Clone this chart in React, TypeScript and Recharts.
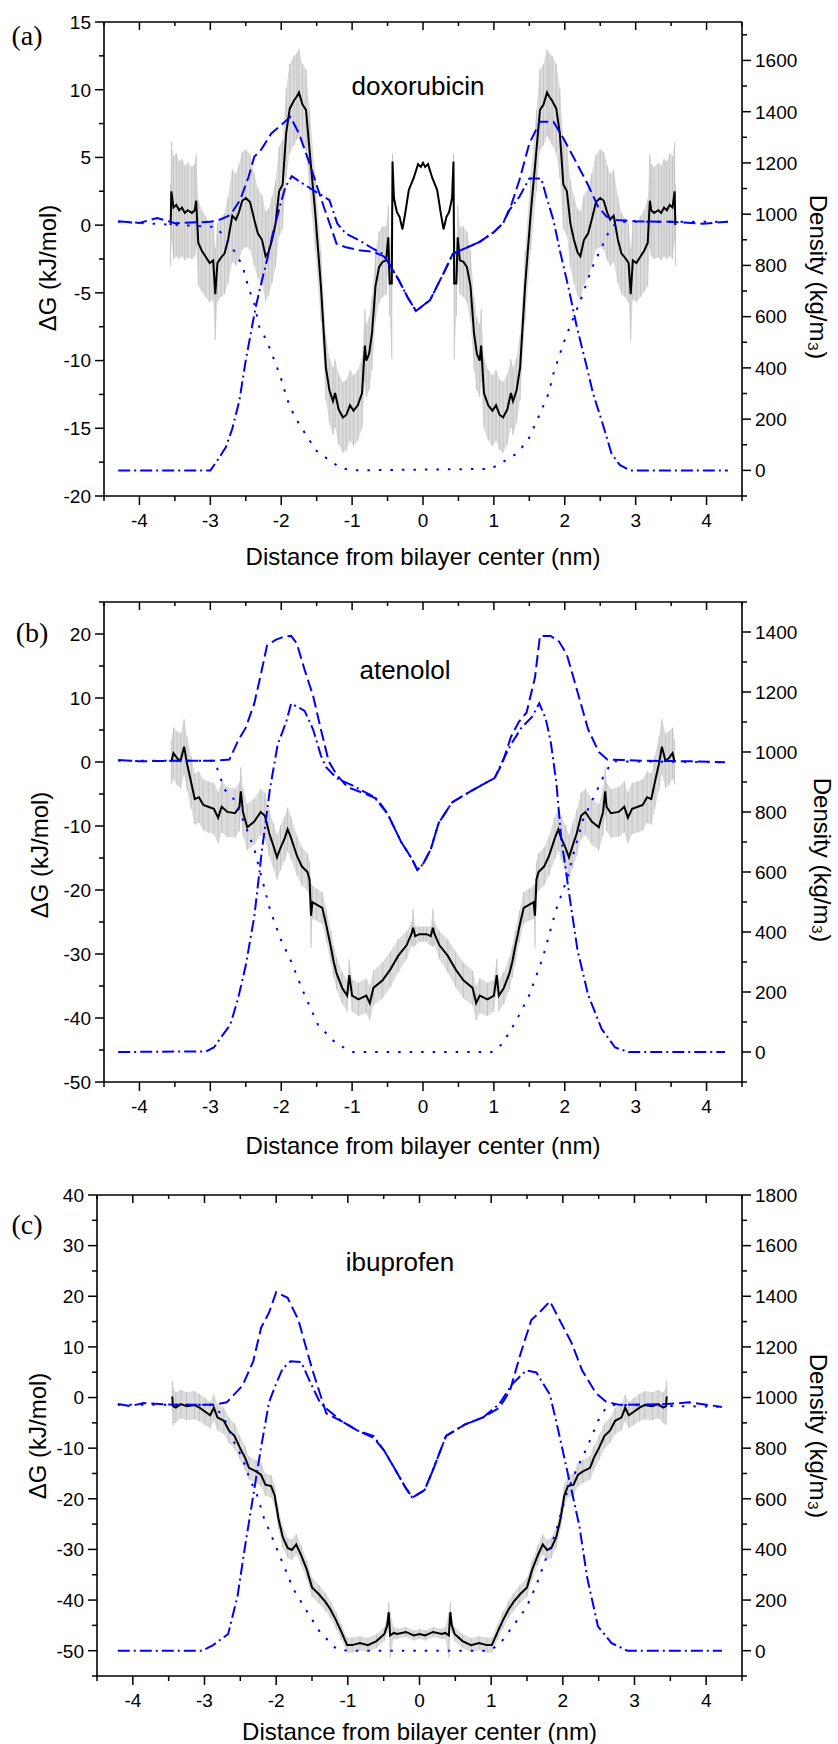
import React from "react";
import { ComposedChart, Line, Area, XAxis, YAxis, ErrorBar, Label } from "recharts";

const SANS = "'Liberation Sans', Arial, Helvetica, sans-serif";
const SERIF = "'Liberation Serif', 'Times New Roman', Times, serif";
const BLUE = "#0000ff";
const W = 838;

const xTicks = [-4.5, -4, -3.5, -3, -2.5, -2, -1.5, -1, -0.5, 0, 0.5, 1, 1.5, 2, 2.5, 3, 3.5, 4, 4.5];

const aLeftTicks = [-20, -17.5, -15, -12.5, -10, -7.5, -5, -2.5, 0, 2.5, 5, 7.5, 10, 12.5, 15];
const aRightTicks = [-100, 0, 100, 200, 300, 400, 500, 600, 700, 800, 900, 1000, 1100, 1200, 1300, 1400, 1500, 1600, 1700];
const bLeftTicks = [-50, -45, -40, -35, -30, -25, -20, -15, -10, -5, 0, 5, 10, 15, 20, 25];
const bRightTicks = [-100, 0, 100, 200, 300, 400, 500, 600, 700, 800, 900, 1000, 1100, 1200, 1300, 1400, 1500];
const cLeftTicks = [-55, -50, -45, -40, -35, -30, -25, -20, -15, -10, -5, 0, 5, 10, 15, 20, 25, 30, 35, 40];
const cRightTicks = [-100, 0, 100, 200, 300, 400, 500, 600, 700, 800, 900, 1000, 1100, 1200, 1300, 1400, 1500, 1600, 1700, 1800];

// free energy: [distance, dG, error]
const aFree = [
  [-3.56, 0.0, 3.0], [-3.55, 2.5, 3.6], [-3.52, 1.3, 3.8], [-3.48, 1.5, 3.8], [-3.44, 1.1, 3.6],
  [-3.4, 1.3, 3.6], [-3.36, 0.9, 3.5], [-3.32, 1.1, 3.5], [-3.26, 0.9, 3.4], [-3.22, 1.1, 3.4],
  [-3.2, 1.8, 3.4], [-3.17, -1.3, 3.2], [-3.12, -1.9, 3.0], [-3.07, -2.3, 3.0], [-3.01, -2.8, 2.9],
  [-2.96, -2.6, 2.9], [-2.93, -5.1, 3.4], [-2.9, -2.8, 2.9], [-2.85, -2.4, 2.9], [-2.8, -2.1, 3.0],
  [-2.75, -1.1, 3.2], [-2.69, 0.7, 3.4], [-2.64, 0.4, 3.4], [-2.6, 0.9, 3.5], [-2.55, 1.8, 3.6],
  [-2.5, 2.0, 3.6], [-2.44, 1.7, 3.5], [-2.38, 0.4, 3.4], [-2.33, -0.6, 3.3], [-2.27, -1.1, 3.3],
  [-2.22, -2.3, 3.3], [-2.18, -2.0, 3.2], [-2.13, -1.1, 3.2], [-2.08, 0.1, 3.2], [-2.03, 2.5, 3.3],
  [-1.98, 3.0, 3.3], [-1.93, 6.8, 3.3], [-1.88, 8.6, 3.3], [-1.82, 9.2, 3.3], [-1.78, 9.5, 3.2],
  [-1.75, 9.8, 3.2], [-1.7, 8.9, 3.0], [-1.65, 8.5, 3.0], [-1.6, 5.5, 3.0], [-1.52, 0.9, 2.8],
  [-1.44, -4.5, 2.6], [-1.37, -10.5, 2.4], [-1.32, -12.2, 2.4], [-1.27, -13.0, 2.5], [-1.24, -12.4, 2.5],
  [-1.19, -13.6, 2.6], [-1.13, -14.2, 2.6], [-1.08, -14.0, 2.6], [-1.03, -13.3, 2.6], [-0.98, -13.7, 2.6],
  [-0.92, -13.3, 2.6], [-0.86, -12.4, 2.6], [-0.82, -8.9, 2.7], [-0.8, -10.0, 2.7], [-0.76, -9.5, 2.7],
  [-0.72, -8.0, 2.7], [-0.67, -4.5, 2.6], [-0.62, -3.1, 2.6], [-0.57, -2.7, 2.6], [-0.52, -2.6, 2.5],
  [-0.49, -0.9, 2.4], [-0.47, -4.3, 2.4], [-0.44, -4.3, 5.6], [-0.43, 4.7, 0.6], [-0.41, 2.0, 0.3],
  [-0.37, 1.0, 0.2], [-0.33, 0.6, 0.1], [-0.29, -0.3, 0.1], [-0.25, 0.9, 0.1], [-0.2, 2.6, 0.1],
  [-0.13, 3.5, 0.1], [-0.07, 4.5, 0.1], [-0.03, 4.3, 0.1], [0.0, 4.6, 0.1], [0.03, 4.3, 0.1],
  [0.07, 4.5, 0.1], [0.13, 3.5, 0.1], [0.2, 2.6, 0.1], [0.25, 0.9, 0.1], [0.29, -0.3, 0.1],
  [0.33, 0.6, 0.1], [0.37, 1.0, 0.2], [0.41, 2.0, 0.3], [0.43, 4.7, 0.6], [0.44, -4.3, 5.6],
  [0.47, -4.3, 2.4], [0.49, -0.9, 2.4], [0.52, -2.6, 2.5], [0.57, -2.7, 2.6], [0.62, -3.1, 2.6],
  [0.67, -4.5, 2.6], [0.72, -8.0, 2.7], [0.76, -9.5, 2.7], [0.8, -10.0, 2.7], [0.82, -8.9, 2.7],
  [0.86, -12.4, 2.6], [0.92, -13.3, 2.6], [0.98, -13.7, 2.6], [1.03, -13.3, 2.6], [1.08, -14.0, 2.6],
  [1.13, -14.2, 2.6], [1.19, -13.6, 2.6], [1.24, -12.4, 2.5], [1.27, -13.0, 2.5], [1.32, -12.2, 2.4],
  [1.37, -10.5, 2.4], [1.44, -4.5, 2.6], [1.52, 0.9, 2.8], [1.6, 5.5, 3.0], [1.65, 8.5, 3.0],
  [1.7, 8.9, 3.0], [1.75, 9.8, 3.2], [1.78, 9.5, 3.2], [1.82, 9.2, 3.3], [1.88, 8.6, 3.3],
  [1.93, 6.8, 3.3], [1.98, 3.0, 3.3], [2.03, 2.5, 3.3], [2.08, 0.1, 3.2], [2.13, -1.1, 3.2],
  [2.18, -2.0, 3.2], [2.22, -2.3, 3.3], [2.27, -1.1, 3.3], [2.33, -0.6, 3.3], [2.38, 0.4, 3.4],
  [2.44, 1.7, 3.5], [2.5, 2.0, 3.6], [2.55, 1.8, 3.6], [2.6, 0.9, 3.5], [2.64, 0.4, 3.4],
  [2.69, 0.7, 3.4], [2.75, -1.1, 3.2], [2.8, -2.1, 3.0], [2.85, -2.4, 2.9], [2.9, -2.8, 2.9],
  [2.93, -5.1, 3.4], [2.96, -2.6, 2.9], [3.01, -2.8, 2.9], [3.07, -2.3, 3.0], [3.12, -1.9, 3.0],
  [3.17, -1.3, 3.2], [3.2, 1.8, 3.4], [3.22, 1.1, 3.4], [3.26, 0.9, 3.4], [3.32, 1.1, 3.5],
  [3.36, 0.9, 3.5], [3.4, 1.3, 3.6], [3.44, 1.1, 3.6], [3.48, 1.5, 3.8], [3.52, 1.3, 3.8],
  [3.55, 2.5, 3.6], [3.56, 0.0, 3.0],
];

const bFree = [
  [-3.55, 0.0, 3.5], [-3.52, 1.4, 4.0], [-3.47, 0.6, 4.2], [-3.42, 0.2, 4.3], [-3.37, 2.4, 4.3],
  [-3.33, -0.2, 4.2], [-3.27, -3.2, 4.1], [-3.22, -5.8, 4.0], [-3.16, -5.5, 4.0], [-3.1, -6.7, 4.0],
  [-3.03, -7.0, 4.0], [-2.95, -7.3, 4.0], [-2.89, -8.7, 4.0], [-2.84, -7.0, 4.0], [-2.76, -7.8, 3.9],
  [-2.65, -8.0, 3.8], [-2.59, -7.0, 3.8], [-2.57, -4.6, 3.8], [-2.54, -7.8, 3.7], [-2.48, -10.2, 3.6],
  [-2.38, -9.3, 3.6], [-2.29, -7.8, 3.6], [-2.23, -8.4, 3.6], [-2.17, -11.1, 3.6], [-2.11, -13.1, 3.5],
  [-2.06, -14.9, 3.5], [-2.01, -13.4, 3.5], [-1.95, -11.9, 3.4], [-1.91, -10.5, 3.4], [-1.86, -11.9, 3.3],
  [-1.78, -14.6, 3.1], [-1.71, -16.3, 3.0], [-1.63, -17.2, 2.9], [-1.6, -18.4, 2.8], [-1.58, -24.0, 5.0],
  [-1.56, -21.9, 2.6], [-1.5, -22.3, 2.5], [-1.42, -22.8, 2.5], [-1.36, -25.7, 2.5], [-1.3, -28.9, 2.5],
  [-1.26, -31.2, 2.5], [-1.22, -33.0, 2.5], [-1.14, -35.3, 2.5], [-1.07, -36.5, 2.5], [-1.04, -33.3, 2.5],
  [-1.0, -36.5, 2.5], [-0.91, -37.1, 2.6], [-0.8, -36.5, 2.7], [-0.75, -37.7, 2.7], [-0.7, -35.3, 2.7],
  [-0.57, -34.1, 2.8], [-0.46, -32.4, 2.8], [-0.35, -30.3, 2.6], [-0.23, -28.6, 2.2], [-0.16, -26.8, 1.8],
  [-0.14, -25.9, 3.0], [-0.11, -27.2, 1.5], [-0.05, -26.9, 1.2], [0.0, -26.9, 1.2], [0.05, -26.9, 1.2],
  [0.11, -27.2, 1.5], [0.14, -25.9, 3.0], [0.16, -26.8, 1.8], [0.23, -28.6, 2.2], [0.35, -30.3, 2.6],
  [0.46, -32.4, 2.8], [0.57, -34.1, 2.8], [0.7, -35.3, 2.7], [0.75, -37.7, 2.7], [0.8, -36.5, 2.7],
  [0.91, -37.1, 2.6], [1.0, -36.5, 2.5], [1.04, -33.3, 2.5], [1.07, -36.5, 2.5], [1.14, -35.3, 2.5],
  [1.22, -33.0, 2.5], [1.26, -31.2, 2.5], [1.3, -28.9, 2.5], [1.36, -25.7, 2.5], [1.42, -22.8, 2.5],
  [1.5, -22.3, 2.5], [1.56, -21.9, 2.6], [1.58, -24.0, 5.0], [1.6, -18.4, 2.8], [1.63, -17.2, 2.9],
  [1.71, -16.3, 3.0], [1.78, -14.6, 3.1], [1.86, -11.9, 3.3], [1.91, -10.5, 3.4], [1.95, -11.9, 3.4],
  [2.01, -13.4, 3.5], [2.06, -14.9, 3.5], [2.11, -13.1, 3.5], [2.17, -11.1, 3.6], [2.23, -8.4, 3.6],
  [2.29, -7.8, 3.6], [2.38, -9.3, 3.6], [2.48, -10.2, 3.6], [2.54, -7.8, 3.7], [2.57, -4.6, 3.8],
  [2.59, -7.0, 3.8], [2.65, -8.0, 3.8], [2.76, -7.8, 3.9], [2.84, -7.0, 4.0], [2.89, -8.7, 4.0],
  [2.95, -7.3, 4.0], [3.03, -7.0, 4.0], [3.1, -6.7, 4.0], [3.16, -5.5, 4.0], [3.22, -5.8, 4.0],
  [3.27, -3.2, 4.1], [3.33, -0.2, 4.2], [3.37, 2.4, 4.3], [3.42, 0.2, 4.3], [3.47, 0.6, 4.2],
  [3.52, 1.4, 4.0], [3.55, 0.0, 3.5],
];

const cFree = [
  [-3.45, 0.2, 3.0], [-3.44, -1.7, 3.8], [-3.4, -2.0, 3.0], [-3.33, -1.3, 2.8], [-3.25, -1.7, 2.8],
  [-3.14, -1.5, 2.8], [-3.07, -2.0, 2.7], [-2.99, -2.8, 2.7], [-2.92, -3.5, 2.6], [-2.87, -2.0, 2.6],
  [-2.82, -3.9, 2.6], [-2.73, -4.6, 2.6], [-2.66, -6.5, 2.5], [-2.58, -7.6, 2.5], [-2.51, -9.8, 2.4],
  [-2.43, -12.0, 2.4], [-2.38, -13.9, 2.3], [-2.28, -14.6, 2.3], [-2.21, -15.3, 2.3], [-2.15, -17.2, 2.2],
  [-2.07, -17.5, 2.2], [-2.02, -19.4, 2.2], [-1.97, -23.8, 2.1], [-1.91, -27.5, 2.1], [-1.84, -29.7, 2.0],
  [-1.78, -30.1, 2.0], [-1.72, -29.0, 2.0], [-1.65, -31.2, 2.0], [-1.57, -34.1, 1.9], [-1.5, -37.5, 1.9],
  [-1.4, -38.9, 1.8], [-1.31, -40.4, 1.8], [-1.24, -41.9, 1.7], [-1.16, -44.1, 1.7], [-1.09, -46.3, 1.6],
  [-1.01, -48.9, 1.5], [-0.94, -48.9, 1.5], [-0.83, -48.5, 1.4], [-0.72, -48.9, 1.4], [-0.6, -48.1, 1.4],
  [-0.49, -46.7, 1.4], [-0.45, -45.0, 1.5], [-0.43, -42.4, 2.0], [-0.41, -47.0, 4.5], [-0.36, -46.5, 1.2],
  [-0.31, -46.7, 1.0], [-0.19, -46.3, 1.0], [-0.08, -47.0, 1.0], [0.0, -46.7, 1.0], [0.08, -47.0, 1.0],
  [0.19, -46.3, 1.0], [0.31, -46.7, 1.0], [0.36, -46.5, 1.2], [0.41, -47.0, 4.5], [0.43, -42.4, 2.0],
  [0.45, -45.0, 1.5], [0.49, -46.7, 1.4], [0.6, -48.1, 1.4], [0.72, -48.9, 1.4], [0.83, -48.5, 1.4],
  [0.94, -48.9, 1.5], [1.01, -48.9, 1.5], [1.09, -46.3, 1.6], [1.16, -44.1, 1.7], [1.24, -41.9, 1.7],
  [1.31, -40.4, 1.8], [1.4, -38.9, 1.8], [1.5, -37.5, 1.9], [1.57, -34.1, 1.9], [1.65, -31.2, 2.0],
  [1.72, -29.0, 2.0], [1.78, -30.1, 2.0], [1.84, -29.7, 2.0], [1.91, -27.5, 2.1], [1.97, -23.8, 2.1],
  [2.02, -19.4, 2.2], [2.07, -17.5, 2.2], [2.15, -17.2, 2.2], [2.21, -15.3, 2.3], [2.28, -14.6, 2.3],
  [2.38, -13.9, 2.3], [2.43, -12.0, 2.4], [2.51, -9.8, 2.4], [2.58, -7.6, 2.5], [2.66, -6.5, 2.5],
  [2.73, -4.6, 2.6], [2.82, -3.9, 2.6], [2.87, -2.0, 2.6], [2.92, -3.5, 2.6], [2.99, -2.8, 2.7],
  [3.07, -2.0, 2.7], [3.14, -1.5, 2.8], [3.25, -1.7, 2.8], [3.33, -1.3, 2.8], [3.4, -2.0, 3.0],
  [3.44, -1.7, 3.8], [3.45, 0.2, 3.0],
];

// densities: [distance, kg/m3]
const aTotal = [
  [-4.3, 972], [-4.0, 966], [-3.75, 985], [-3.5, 965], [-3.0, 970], [-2.85, 980], [-2.72, 996],
  [-2.58, 1055], [-2.46, 1146], [-2.38, 1224], [-2.28, 1253], [-2.14, 1315], [-2.0, 1348], [-1.87, 1380],
  [-1.75, 1315], [-1.6, 1198], [-1.5, 1113], [-1.4, 1029], [-1.3, 950], [-1.22, 885], [-1.1, 872],
  [-0.9, 859], [-0.7, 853], [-0.55, 835], [-0.48, 807], [-0.34, 742], [-0.22, 677], [-0.1, 622],
  [0.1, 665], [0.2, 720], [0.3, 775], [0.42, 845], [0.5, 855], [0.8, 892], [1.0, 930], [1.13, 965],
  [1.25, 1040], [1.36, 1133], [1.5, 1276], [1.65, 1361], [1.84, 1361], [1.98, 1296], [2.17, 1198],
  [2.33, 1113], [2.47, 1029], [2.59, 990], [2.73, 977], [3.0, 972], [3.5, 970], [3.95, 963], [4.3, 970],
];
const aLipid = [
  [-4.3, 0], [-3.0, 0], [-2.9, 39], [-2.78, 91], [-2.69, 163], [-2.59, 273], [-2.5, 430], [-2.43, 534],
  [-2.36, 638], [-2.26, 755], [-2.19, 833], [-2.12, 924], [-2.02, 1029], [-1.94, 1107], [-1.85, 1148],
  [-1.7, 1120], [-1.51, 1087], [-1.32, 1055], [-1.21, 964], [-1.09, 924], [-0.9, 898], [-0.71, 866],
  [-0.57, 846], [-0.48, 807], [-0.34, 742], [-0.22, 677], [-0.1, 622], [0.1, 665], [0.2, 720], [0.3, 775],
  [0.42, 845], [0.5, 855], [0.8, 892], [1.0, 930], [1.13, 965], [1.22, 1016], [1.36, 1068], [1.5, 1139],
  [1.67, 1139], [1.74, 1068], [1.84, 977], [1.93, 859], [2.05, 716], [2.17, 560], [2.31, 404], [2.4, 299],
  [2.52, 195], [2.66, 65], [2.78, 20], [2.92, 0], [4.3, 0],
];
const aWater = [
  [-4.3, 970], [-2.92, 950], [-2.76, 898], [-2.64, 846], [-2.55, 801], [-2.45, 703], [-2.38, 651],
  [-2.31, 560], [-2.22, 514], [-2.15, 469], [-2.08, 417], [-2.01, 365], [-1.91, 273], [-1.84, 228],
  [-1.75, 182], [-1.63, 130], [-1.51, 78], [-1.32, 39], [-1.16, 9], [-0.99, 0], [0.96, 6], [1.13, 33],
  [1.32, 65], [1.48, 117], [1.65, 221], [1.77, 299], [1.84, 378], [1.98, 495], [2.07, 560], [2.24, 677],
  [2.38, 788], [2.5, 859], [2.61, 924], [2.73, 970], [4.3, 970],
];

const bTotal = [
  [-4.3, 973], [-4.0, 969], [-3.48, 971], [-2.95, 971], [-2.73, 975], [-2.61, 1037], [-2.5, 1081],
  [-2.38, 1162], [-2.29, 1256], [-2.2, 1355], [-2.08, 1374], [-1.97, 1384], [-1.86, 1387], [-1.78, 1362],
  [-1.67, 1274], [-1.55, 1187], [-1.44, 1075], [-1.33, 969], [-1.22, 925], [-1.06, 882], [-0.84, 863],
  [-0.65, 844], [-0.5, 794], [-0.31, 701], [-0.16, 645], [-0.08, 607], [0.0, 626], [0.11, 676],
  [0.22, 763], [0.41, 832], [0.67, 869], [0.86, 894], [1.01, 913], [1.12, 963], [1.24, 1050],
  [1.35, 1100], [1.46, 1131], [1.58, 1249], [1.65, 1387], [1.8, 1387], [1.92, 1368], [2.03, 1324],
  [2.18, 1200], [2.33, 1075], [2.48, 1000], [2.6, 975], [3.09, 971], [3.77, 969], [4.26, 966],
];
const bLipid = [
  [-4.3, 0], [-3.06, 2], [-2.95, 15], [-2.84, 52], [-2.72, 90], [-2.61, 177], [-2.5, 289], [-2.38, 451],
  [-2.27, 676], [-2.16, 875], [-2.05, 1025], [-1.93, 1100], [-1.86, 1162], [-1.67, 1137], [-1.55, 1075],
  [-1.44, 988], [-1.37, 950], [-1.22, 913], [-0.99, 888], [-0.69, 850], [-0.5, 794], [-0.31, 701],
  [-0.16, 645], [-0.08, 607], [0.0, 626], [0.11, 676], [0.22, 763], [0.41, 832], [0.67, 869], [0.86, 894],
  [1.01, 913], [1.12, 969], [1.24, 1025], [1.39, 1081], [1.54, 1118], [1.64, 1162], [1.73, 1112],
  [1.8, 1037], [1.88, 900], [1.95, 713], [2.07, 514], [2.18, 339], [2.33, 190], [2.52, 77], [2.71, 15],
  [2.9, 0], [4.26, 0],
];
const bWater = [
  [-4.3, 971], [-2.95, 971], [-2.91, 950], [-2.8, 875], [-2.65, 838], [-2.5, 751], [-2.38, 676],
  [-2.27, 576], [-2.16, 476], [-2.01, 377], [-1.86, 302], [-1.67, 190], [-1.48, 90], [-1.22, 27],
  [-0.99, 0], [0.97, 0], [1.12, 27], [1.31, 102], [1.5, 190], [1.69, 314], [1.88, 476], [2.03, 576],
  [2.14, 676], [2.26, 776], [2.41, 850], [2.56, 925], [2.67, 969], [4.26, 966],
];

const cTotal = [
  [-4.21, 974], [-4.04, 966], [-3.85, 978], [-3.4, 971], [-2.88, 971], [-2.69, 981], [-2.47, 1047],
  [-2.32, 1143], [-2.21, 1276], [-2.1, 1335], [-2.0, 1416], [-1.84, 1394], [-1.69, 1306], [-1.5, 1114],
  [-1.3, 937], [-1.09, 907], [-0.87, 870], [-0.64, 841], [-0.49, 789], [-0.34, 716], [-0.19, 642],
  [-0.1, 605], [0.07, 634], [0.18, 708], [0.37, 848], [0.63, 893], [0.89, 922], [1.11, 959], [1.26, 1025],
  [1.41, 1173], [1.56, 1306], [1.67, 1335], [1.82, 1380], [1.93, 1320], [2.12, 1217], [2.27, 1107],
  [2.46, 1018], [2.6, 984], [2.79, 971], [3.46, 974], [3.76, 981], [4.22, 963],
];
const cLipid = [
  [-4.21, 0], [-3.03, 0], [-2.88, 22], [-2.67, 66], [-2.54, 214], [-2.43, 420], [-2.32, 612], [-2.21, 804],
  [-2.1, 981], [-2.0, 1055], [-1.91, 1114], [-1.8, 1143], [-1.65, 1140], [-1.54, 1070], [-1.39, 981],
  [-1.28, 952], [-1.09, 907], [-0.87, 870], [-0.64, 848], [-0.49, 789], [-0.34, 716], [-0.19, 642],
  [-0.1, 605], [0.07, 634], [0.18, 708], [0.37, 848], [0.63, 893], [0.89, 922], [1.11, 974], [1.3, 1055],
  [1.49, 1107], [1.63, 1099], [1.82, 1011], [1.93, 878], [2.08, 686], [2.23, 494], [2.34, 288],
  [2.49, 96], [2.68, 30], [2.9, 0], [4.22, 0],
];
const cWater = [
  [-4.21, 971], [-2.88, 971], [-2.73, 922], [-2.58, 819], [-2.47, 760], [-2.36, 671], [-2.28, 627],
  [-2.17, 524], [-2.06, 450], [-1.91, 347], [-1.76, 243], [-1.57, 155], [-1.39, 74], [-1.16, 7],
  [-1.01, 0], [0.96, 0], [1.11, 22], [1.3, 96], [1.49, 170], [1.63, 258], [1.78, 376], [1.9, 465],
  [2.04, 612], [2.19, 716], [2.34, 804], [2.49, 907], [2.6, 959], [2.72, 971], [4.22, 963],
];

const freeRows = (pts: number[][]) => pts.map(([x, g, e]) => ({ x, g, e, band: [g - e, g + e] }));
const densRows = (pts: number[][]) => pts.map(([x, d]) => ({ x, d }));

const isMajor = (v: number, step: number) => Math.abs(v / step - Math.round(v / step)) < 1e-6;
const tickText = { fontFamily: SANS, fontSize: 19, fill: "#000" };
const axisLine = { stroke: "#000", strokeWidth: 1.6 };

const leftTick = (step: number) => (p: any) => {
  const v = p.payload.value;
  const major = isMajor(v, step);
  const len = major ? 9 : 5;
  return (
    <g>
      <line x1={p.x} x2={p.x - len} y1={p.y} y2={p.y} stroke="#000" strokeWidth={1.5} />
      {major ? (
        <text x={p.x - len - 4} y={p.y} dy="0.36em" textAnchor="end" style={tickText}>
          {v}
        </text>
      ) : null}
    </g>
  );
};

const rightTick = (p: any) => {
  const v = p.payload.value;
  const major = v >= 0 && isMajor(v, 200);
  const len = major ? 9 : 5;
  return (
    <g>
      <line x1={p.x} x2={p.x + len} y1={p.y} y2={p.y} stroke="#000" strokeWidth={1.5} />
      {major ? (
        <text x={p.x + len + 4} y={p.y} dy="0.36em" textAnchor="start" style={tickText}>
          {v}
        </text>
      ) : null}
    </g>
  );
};

const bottomTick = (p: any) => {
  const v = p.payload.value;
  const major = isMajor(v, 1);
  const len = major ? 9 : 5;
  return (
    <g>
      <line x1={p.x} x2={p.x} y1={p.y} y2={p.y + len} stroke="#000" strokeWidth={1.5} />
      {major ? (
        <text x={p.x} y={p.y + 18} dy="0.71em" textAnchor="middle" style={tickText}>
          {v}
        </text>
      ) : null}
    </g>
  );
};

const topTick = (p: any) => {
  const v = p.payload.value;
  const len = isMajor(v, 1) ? 8 : 4;
  return <line x1={p.x} x2={p.x} y1={p.y} y2={p.y + len} stroke="#000" strokeWidth={1.5} />;
};

type PanelProps = {
  top: number;
  leftW: number;
  plotH: number;
  bottomH: number;
  free: number[][];
  total: number[][];
  lipid: number[][];
  water: number[][];
  gDomain: [number, number];
  gTicks: number[];
  gStep: number;
  dDomain: [number, number];
  dTicks: number[];
  letter: string;
  letterPos: [number, number];
  name: string;
  namePos: [number, number];
  gTitle: [number, number];
  dTitle: [number, number];
  xTitleY: number;
};

function Panel(p: PanelProps) {
  const rows = freeRows(p.free);
  const height = 22 + p.plotH + p.bottomH;
  const plotMid = (p.leftW + 742) / 2;
  return (
    <div style={{ position: "absolute", left: 0, top: p.top, width: W, height }}>
      <ComposedChart width={W} height={height} data={rows} margin={{ top: 0, right: 0, bottom: 0, left: 0 }}>
        <XAxis
          xAxisId="top"
          orientation="top"
          dataKey="x"
          type="number"
          domain={[-4.5, 4.5]}
          ticks={xTicks}
          interval={0}
          height={22}
          tickSize={0}
          tickMargin={0}
          tickLine={false}
          tick={topTick}
          axisLine={axisLine}
          allowDataOverflow
        >
          <Label
            content={() => (
              <g>
                <text x={p.letterPos[0]} y={p.letterPos[1]} dy="0.35em" textAnchor="middle" fontFamily={SERIF} fontSize={28} fill="#000">
                  {p.letter}
                </text>
                <text x={p.namePos[0]} y={p.namePos[1]} dy="0.35em" textAnchor="middle" fontFamily={SANS} fontSize={26} fill="#000">
                  {p.name}
                </text>
              </g>
            )}
          />
        </XAxis>
        <XAxis
          dataKey="x"
          type="number"
          domain={[-4.5, 4.5]}
          ticks={xTicks}
          interval={0}
          height={p.bottomH}
          tickSize={0}
          tickMargin={0}
          tickLine={false}
          tick={bottomTick}
          axisLine={axisLine}
          allowDataOverflow
        >
          <Label
            content={() => (
              <text x={plotMid} y={p.xTitleY} dy="0.35em" textAnchor="middle" fontFamily={SANS} fontSize={24} fill="#000">
                Distance from bilayer center (nm)
              </text>
            )}
          />
        </XAxis>
        <YAxis
          yAxisId="g"
          orientation="left"
          width={p.leftW}
          type="number"
          domain={p.gDomain}
          ticks={p.gTicks}
          interval={0}
          tickSize={0}
          tickMargin={0}
          tickLine={false}
          tick={leftTick(p.gStep)}
          axisLine={axisLine}
          allowDataOverflow
        >
          <Label
            content={() => (
              <text
                transform={`translate(${p.gTitle[0]},${p.gTitle[1]}) rotate(-90)`}
                dy="0.35em"
                textAnchor="middle"
                fontFamily={SANS}
                fontSize={24}
                fill="#000"
              >
                ΔG (kJ/mol)
              </text>
            )}
          />
        </YAxis>
        <YAxis
          yAxisId="d"
          orientation="right"
          width={96}
          type="number"
          domain={p.dDomain}
          ticks={p.dTicks}
          interval={0}
          tickSize={0}
          tickMargin={0}
          tickLine={false}
          tick={rightTick}
          axisLine={axisLine}
          allowDataOverflow
        >
          <Label
            content={() => (
              <text
                transform={`translate(${p.dTitle[0]},${p.dTitle[1]}) rotate(90)`}
                dy="0.35em"
                textAnchor="middle"
                fontFamily={SANS}
                fontSize={24}
                fill="#000"
              >
                Density (kg/m₃)
              </text>
            )}
          />
        </YAxis>
        <Area yAxisId="g" dataKey="band" type="linear" fill="#dcdcdc" fillOpacity={1} stroke="none" isAnimationActive={false} />
        <Line yAxisId="g" dataKey="g" type="linear" stroke="none" dot={false} activeDot={false} isAnimationActive={false}>
          <ErrorBar dataKey="e" width={0} stroke="#c4c4c4" strokeWidth={1} direction="y" />
        </Line>
        <Line yAxisId="g" dataKey="g" type="linear" stroke="#000" strokeWidth={2} dot={false} activeDot={false} isAnimationActive={false} />
        <Line yAxisId="d" data={densRows(p.total)} dataKey="d" type="linear" stroke={BLUE} strokeWidth={2} strokeDasharray="12 5" dot={false} activeDot={false} isAnimationActive={false} />
        <Line yAxisId="d" data={densRows(p.lipid)} dataKey="d" type="linear" stroke={BLUE} strokeWidth={2} strokeDasharray="12 4 2 4" dot={false} activeDot={false} isAnimationActive={false} />
        <Line yAxisId="d" data={densRows(p.water)} dataKey="d" type="linear" stroke={BLUE} strokeWidth={2} strokeDasharray="2.5 9" dot={false} activeDot={false} isAnimationActive={false} />
      </ComposedChart>
    </div>
  );
}

export default function App() {
  return (
    <div style={{ position: "absolute", left: 0, top: 0, width: W, height: 1744, background: "#fff" }}>
      <Panel
        top={0}
        leftW={104}
        plotH={474}
        bottomH={80}
        free={aFree}
        total={aTotal}
        lipid={aLipid}
        water={aWater}
        gDomain={[-20, 15]}
        gTicks={aLeftTicks}
        gStep={5}
        dDomain={[-100, 1750]}
        dTicks={aRightTicks}
        letter="(a)"
        letterPos={[27, 35]}
        name="doxorubicin"
        namePos={[418, 86]}
        gTitle={[48, 268]}
        dTitle={[818, 277]}
        xTitleY={557}
      />
      <Panel
        top={580}
        leftW={104}
        plotH={480}
        bottomH={80}
        free={bFree}
        total={bTotal}
        lipid={bLipid}
        water={bWater}
        gDomain={[-50, 25]}
        gTicks={bLeftTicks}
        gStep={10}
        dDomain={[-100, 1500]}
        dTicks={bRightTicks}
        letter="(b)"
        letterPos={[32, 52]}
        name="atenolol"
        namePos={[405, 90]}
        gTitle={[40, 275]}
        dTitle={[822, 280]}
        xTitleY={566}
      />
      <Panel
        top={1173}
        leftW={97}
        plotH={481}
        bottomH={90}
        free={cFree}
        total={cTotal}
        lipid={cLipid}
        water={cWater}
        gDomain={[-55, 40]}
        gTicks={cLeftTicks}
        gStep={10}
        dDomain={[-100, 1800]}
        dTicks={cRightTicks}
        letter="(c)"
        letterPos={[27, 51]}
        name="ibuprofen"
        namePos={[400, 89]}
        gTitle={[38, 263]}
        dTitle={[818, 263]}
        xTitleY={559}
      />
    </div>
  );
}
